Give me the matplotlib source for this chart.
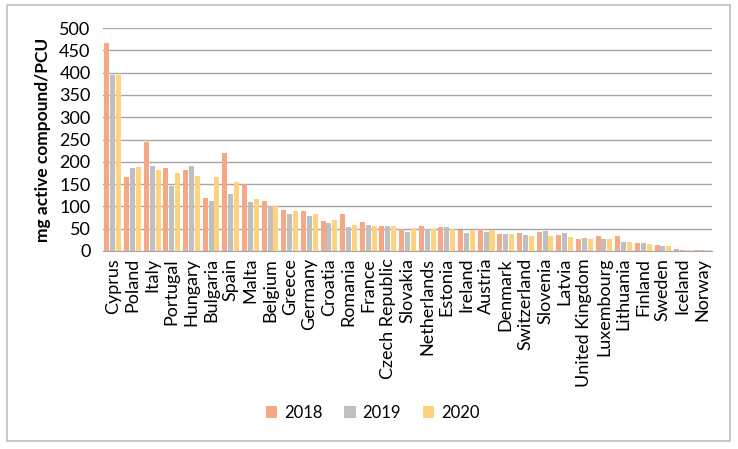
import matplotlib.pyplot as plt
import matplotlib.patches as patches
import numpy as np

# Countries and sales (mg active compound / PCU)
countries = ["Cyprus", "Poland", "Italy", "Portugal", "Hungary", "Bulgaria", "Spain",
             "Malta", "Belgium", "Greece", "Germany", "Croatia", "Romania", "France",
             "Czech Republic", "Slovakia", "Netherlands", "Estonia", "Ireland", "Austria",
             "Denmark", "Switzerland", "Slovenia", "Latvia", "United Kingdom", "Luxembourg",
             "Lithuania", "Finland", "Sweden", "Iceland", "Norway"]
y2018 = [466, 167, 244, 187, 181, 119, 219, 150, 113, 91, 89, 67, 83, 64, 56, 49,
         57, 53, 46, 49, 38, 40, 43, 36, 28, 34, 34, 18, 13, 4.5, 2.2]
y2019 = [394, 185, 191, 146, 190, 113, 127, 110, 102, 83, 79, 63, 54, 58, 55, 43,
         49, 53, 40, 43, 37, 35, 45, 41, 30, 28, 20, 19, 10.5, 3, 1.5]
y2020 = [394, 188, 181, 176, 169, 166, 154, 116, 102, 89, 83, 69, 58, 56, 55, 51,
         49, 49, 47, 46, 37, 34, 34, 31, 28, 28, 20, 16, 10.5, 3, 1.5]
years = ["2018", "2019", "2020"]
colors = ["#F4A886", "#BFBFBF", "#FFD27F"]

plt.rcParams['font.family'] = ['Lato', 'DejaVu Sans']

fig = plt.figure(figsize=(7.38, 4.49), dpi=100)
ax = fig.add_axes([0.1396, 0.441, 0.8252, 0.4966])

x = np.arange(len(countries))
w = 0.255
off = 0.30
for i, (vals, lab, c) in enumerate(zip([y2018, y2019, y2020], years, colors)):
    ax.bar(x + (i - 1) * off, vals, width=w, color=c, label=lab, zorder=3)

ax.set_xlim(-0.5, len(countries) - 0.5)
ax.set_ylim(0, 500)
ax.set_yticks(range(0, 501, 50))
ax.yaxis.grid(True, color="#A6A6A6", linewidth=1.0, zorder=0)
ax.set_axisbelow(True)
for s in ["top", "right", "left"]:
    ax.spines[s].set_visible(False)
ax.spines["bottom"].set_color("#A6A6A6")
ax.tick_params(axis="both", length=0, labelsize=13, colors="black")
ax.tick_params(axis="y", pad=9)
ax.tick_params(axis="x", pad=5)
ax.set_xticks(x)
ax.set_xticklabels(countries, rotation=90)
ax.set_ylabel("mg active compound/PCU", fontsize=12.5, fontweight="bold", labelpad=6)

fig.legend(*ax.get_legend_handles_labels(), loc="center", bbox_to_anchor=(0.505, 0.08),
           ncol=3, frameon=False, fontsize=12, handlelength=0.7, handleheight=0.7,
           columnspacing=1.3, handletextpad=0.4)

# Outer chart frame
fig.patches.append(patches.Rectangle((7 / 738, 8 / 449), 723 / 738, 436 / 449,
                                     transform=fig.transFigure, fill=False,
                                     edgecolor="#BFBFBF", linewidth=1.2))

plt.savefig("out.png", dpi=100)
